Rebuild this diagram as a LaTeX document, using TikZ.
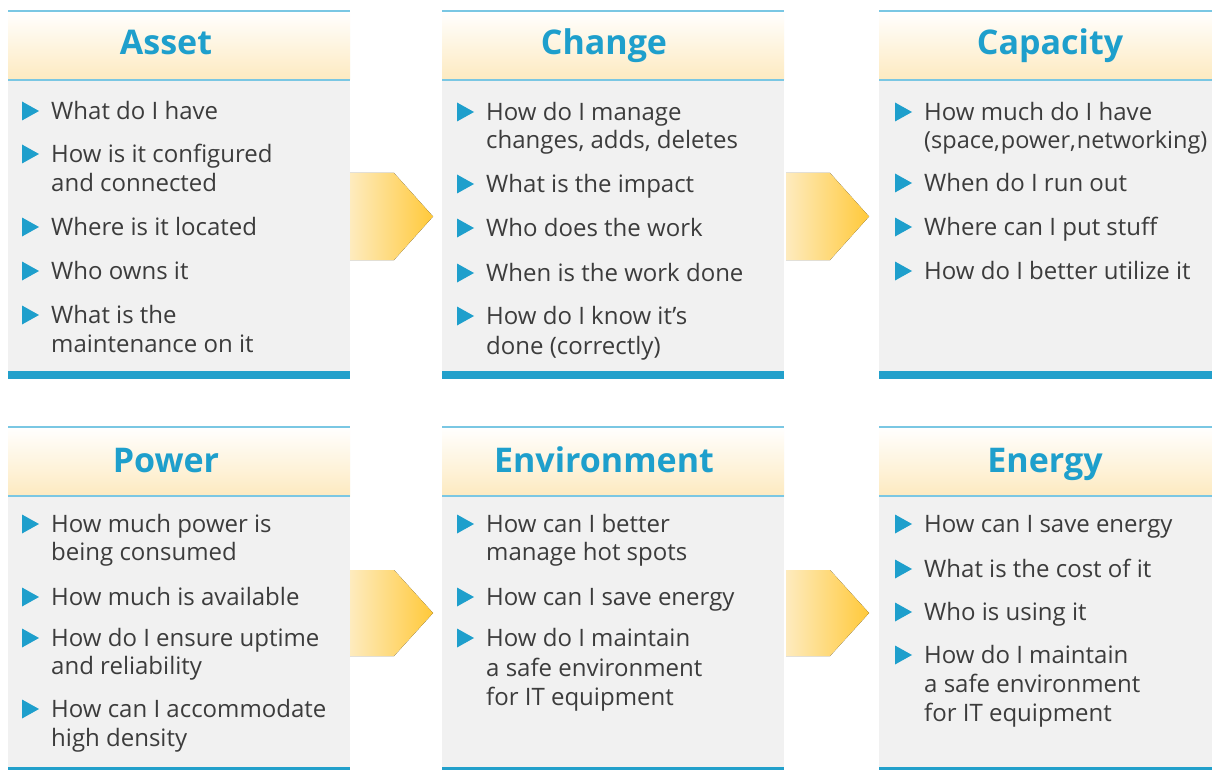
\documentclass[tikz,border=0pt]{standalone}
\usepackage{fontspec}
\setmainfont{Open Sans}
\definecolor{hblue}{HTML}{1E9FCC}
\definecolor{lineblue}{HTML}{7AC7E3}
\definecolor{barblue}{HTML}{22A0CB}
\definecolor{bodygray}{HTML}{F1F1F1}
\definecolor{hdrbot}{HTML}{FDEAC0}
\definecolor{txtgray}{HTML}{3C3C3C}
\definecolor{arrL}{HTML}{FEEBBE}
\definecolor{arrR}{HTML}{FFC93A}
\tikzset{
  txt/.style={anchor=base west,inner sep=0pt,font=\fontsize{24}{29}\selectfont,text=txtgray},
  hdr/.style={anchor=base,inner sep=0pt,font=\fontsize{34}{38}\selectfont\bfseries,text=hblue},
  bulletmark/.style={fill=hblue},
  flowarrow/.style={left color=arrL,right color=arrR,draw=none}
}
\newcommand\panelbox[4]{% x0 x1 ytop ybot
  \fill[bodygray] (#1,#3) rectangle (#2,#4);
  \shade[top color=white,bottom color=hdrbot] (#1,#3) rectangle (#2,#3+69);
  \draw[lineblue,line width=1.6pt] (#1,#3) -- (#2,#3);
  \draw[lineblue,line width=2pt] (#1,#3+69) -- (#2,#3+69);
  \fill[barblue] (#1,#4) rectangle (#2,#4+8);
}
\newcommand\bul[4]{% name x y text
  \fill[bulletmark] (#2,#3-9.5) -- (#2+17,#3) -- (#2,#3+9.5) -- cycle;
  \node[txt] (#1) at (#2+29,#3+8.5) {#4};
}
\newcommand\cont[4]{\node[txt] (#1) at (#2+29,#3+8.5) {#4};}
\begin{document}
\begin{tikzpicture}[x=1pt,y=-1pt]
\clip (0,0) rectangle (1212,770);
\fill[white] (0,0) rectangle (1212,770);
% panels
\panelbox{8}{350}{11}{371}
\panelbox{442}{784}{11}{371}
\panelbox{879}{1230}{11}{371}
\panelbox{8}{350}{427}{767}
\panelbox{442}{784}{427}{767}
\panelbox{879}{1230}{427}{767}
% arrows
\fill[flowarrow] (350,173) -- (394,173) -- (433,216.5) -- (394,260) -- (350,260) -- cycle;
\fill[flowarrow] (786,173) -- (830,173) -- (869,216.5) -- (830,260) -- (786,260) -- cycle;
\fill[flowarrow] (350,570) -- (394,570) -- (433,613) -- (394,656) -- (350,656) -- cycle;
\fill[flowarrow] (786,570) -- (830,570) -- (869,613) -- (830,656) -- (786,656) -- cycle;
% headers
\node[hdr] (hAsset) at (166,55) {Asset};
\node[hdr] (hChange) at (604,55) {Change};
\node[hdr] (hCapacity) at (1050,55) {Capacity};
\node[hdr] (hPower) at (166,472) {Power};
\node[hdr] (hEnv) at (604,472) {Environment};
\node[hdr] (hEnergy) at (1045,472) {Energy};
% Asset
\bul{a1}{22}{111}{What do I have}
\bul{a2}{22}{154}{How is it configured}
\cont{a2b}{22}{183}{and connected}
\bul{a3}{22}{227}{Where is it located}
\bul{a4}{22}{271}{Who owns it}
\bul{a5}{22}{315}{What is the}
\cont{a5b}{22}{344}{maintenance on it}
% Change
\bul{c1}{457}{112}{How do I manage}
\cont{c1b}{457}{140}{changes, adds, deletes}
\bul{c2}{457}{184}{What is the impact}
\bul{c3}{457}{228}{Who does the work}
\bul{c4}{457}{273}{When is the work done}
\bul{c5}{457}{316}{How do I know it’s}
\cont{c5b}{457}{346}{done (correctly)}
% Capacity
\bul{p1}{895}{112}{How much do I have}
\cont{p1b}{895}{140}{\fontsize{23.5}{29}\selectfont(space,\hspace{1pt}power,\hspace{1pt}networking)}
\bul{p2}{895}{183}{When do I run out}
\bul{p3}{895}{227}{Where can I put stuff}
\bul{p4}{895}{271}{How do I better utilize it}
% Power
\bul{w1}{22}{524}{How much power is}
\cont{w1b}{22}{552}{being consumed}
\bul{w2}{22}{597}{How much is available}
\bul{w3}{22}{638}{How do I ensure uptime}
\cont{w3b}{22}{666}{and reliability}
\bul{w4}{22}{709}{How can I accommodate}
\cont{w4b}{22}{738}{high density}
% Environment
\bul{e1}{457}{524}{How can I better}
\cont{e1b}{457}{552}{manage hot spots}
\bul{e2}{457}{597}{How can I save energy}
\bul{e3}{457}{638}{How do I maintain}
\cont{e3b}{457}{668}{a safe environment}
\cont{e3c}{457}{697}{for IT equipment}
% Energy
\bul{n1}{895}{524}{How can I save energy}
\bul{n2}{895}{569}{What is the cost of it}
\bul{n3}{895}{612}{Who is using it}
\bul{n4}{895}{655}{How do I maintain}
\cont{n4b}{895}{684}{a safe environment}
\cont{n4c}{895}{713}{for IT equipment}
\end{tikzpicture}
\end{document}
